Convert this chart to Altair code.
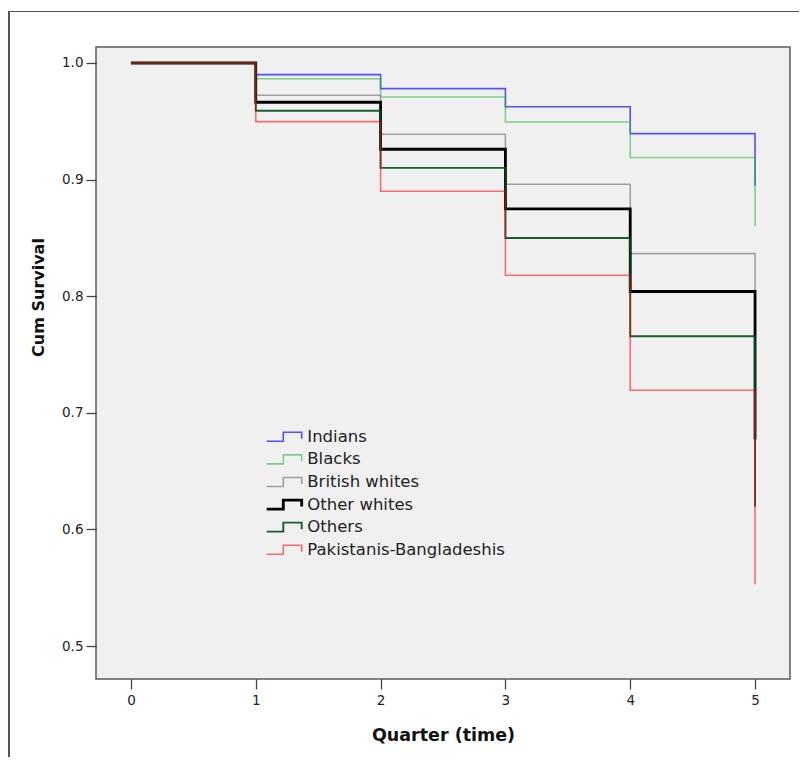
import altair as alt
import pandas as pd

quarters = [0, 1, 2, 3, 4, 5]
groups = ["Indians", "Blacks", "British whites", "Other whites", "Others",
          "Pakistanis-Bangladeshis"]
indians = [1.0, 0.990, 0.978, 0.9625, 0.9394, 0.8945]
blacks = [1.0, 0.9865, 0.9708, 0.9494, 0.919, 0.860]
british_whites = [1.0, 0.9723, 0.9389, 0.896, 0.8365, 0.804]
other_whites = [1.0, 0.9663, 0.926, 0.8748, 0.804, 0.677]
others = [1.0, 0.959, 0.910, 0.8499, 0.7656, 0.6195]
pak_bang = [1.0, 0.9497, 0.890, 0.818, 0.7193, 0.553]
x_ticks = [0, 1, 2, 3, 4, 5]
y_ticks = [0.5, 0.6, 0.7, 0.8, 0.9, 1.0]

colors = ["#2a2af5", "#19b832", "#8c8c8c", "#000000", "#004d1a", "#ff0000"]
opacities = [0.8, 0.55, 0.8, 1.0, 0.9, 0.55]
widths = [1.6, 1.6, 1.6, 2.8, 1.9, 1.6]

series = [indians, blacks, british_whites, other_whites, others, pak_bang]
rows = []
for g, vals in zip(groups, series):
    for q, v in zip(quarters, vals):
        rows.append({"Quarter": q, "Survival": v, "Group": g})
df = pd.DataFrame(rows)

step_symbol = "M-3.46,0.9 L-0.14,0.9 L-0.14,-0.9 L3.54,-0.9 L3.54,0.4"

lines = alt.Chart(df).mark_line(interpolate="step-after").encode(
    x=alt.X("Quarter:Q",
            scale=alt.Scale(domain=[-0.28, 5.28], nice=False, zero=False),
            axis=alt.Axis(values=x_ticks, format="d", title="Quarter (time)",
                          titleY=56, titleBaseline="middle")),
    y=alt.Y("Survival:Q",
            scale=alt.Scale(domain=[0.4717, 1.0137], nice=False, zero=False),
            axis=alt.Axis(values=y_ticks, format=".1f", title="Cum Survival",
                          titleX=-58, titleY=250, titleAlign="center",
                          titleBaseline="middle")),
    color=alt.Color("Group:N", sort=groups,
                    scale=alt.Scale(domain=groups, range=colors),
                    legend=alt.Legend(title=None, orient="none",
                                      legendX=179.75, legendY=381.5,
                                      symbolType=step_symbol, symbolSize=100,
                                      symbolFillColor="transparent",
                                      labelOffset=15.05, rowPadding=1.6,
                                      gridAlign="all",
                                      padding=0, labelLimit=0,
                                      labelFont="DejaVu Sans", labelFontSize=16.5,
                                      labelColor="#222222")),
    opacity=alt.Opacity("Group:N", sort=groups,
                        scale=alt.Scale(type="ordinal", domain=groups, range=opacities),
                        legend=None),
    strokeWidth=alt.StrokeWidth("Group:N", sort=groups,
                                scale=alt.Scale(type="ordinal", domain=groups, range=widths),
                                legend=None),
    order=alt.Order("Quarter:Q"),
)

border_top = alt.Chart(df).mark_rule(color="#555555", strokeWidth=1.2).encode(
    x=alt.value(-87.5), x2=alt.value(710), y=alt.value(-35.5))
border_left = alt.Chart(df).mark_rule(color="#555555", strokeWidth=1.2).encode(
    x=alt.value(-87.5), y=alt.value(-35.5), y2=alt.value(710))

chart = alt.layer(border_top, border_left, lines).properties(
    width=694, height=632,
    autosize=alt.AutoSizeParams(type="none"),
    padding={"left": 88, "top": 39, "right": 9, "bottom": 78},
    background="white",
).configure_view(
    fill="#f0f0f0", stroke="#5a5a5a", strokeWidth=1.5
).configure_axis(
    domain=False, grid=False,
    tickColor="#444444", tickWidth=1.3, tickSize=10,
    labelFont="DejaVu Sans", labelFontSize=13.5, labelColor="#222222",
    labelPadding=3,
    titleFont="DejaVu Sans", titleFontWeight="bold", titleColor="#111111",
).configure_axisX(
    titleFontSize=17.5, labelPadding=4
).configure_axisY(
    titleFontSize=16
)

chart.save("out.html", embed_options={"renderer": "svg", "actions": False})
